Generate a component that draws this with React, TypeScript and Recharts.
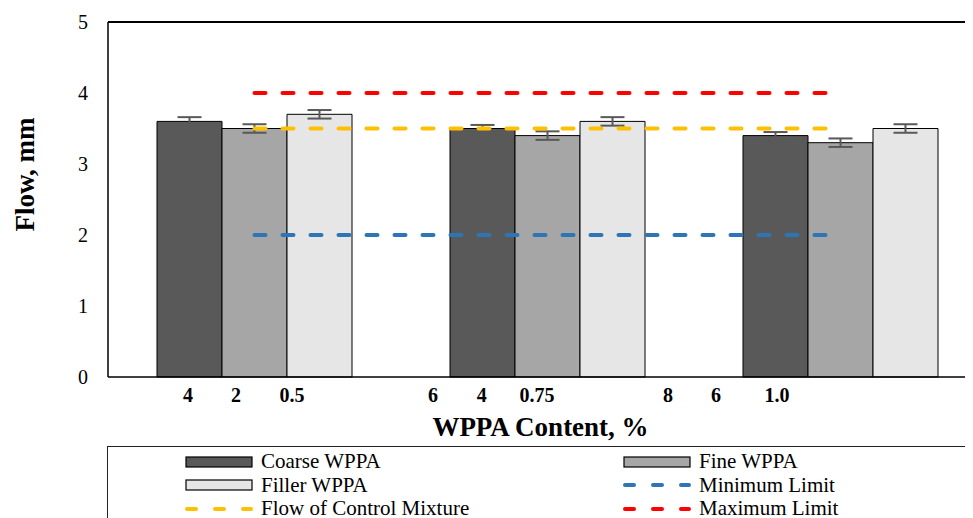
import React from "react"
import { ComposedChart, Bar, Line, XAxis, YAxis, ErrorBar, ReferenceLine } from "recharts"

const groups = ["Group 1", "Group 2", "Group 3"]
const groupPos = [0.5, 1.5, 2.5]
const coarse = [3.6, 3.5, 3.4]
const fine = [3.5, 3.4, 3.3]
const filler = [3.7, 3.6, 3.5]
const coarseErr = [0.06, 0.05, 0.05]
const fineErr = [0.06, 0.06, 0.06]
const fillerErr = [0.06, 0.06, 0.06]
const controlFlow = [3.5, 3.5, 3.5]
const minLimit = [2, 2, 2]
const maxLimit = [4, 4, 4]
const yTicks = [0, 1, 2, 3, 4, 5]

// the content labels sit loosely under the groups in the source figure
const contentPos = [0.273, 0.437, 0.628, 1.109, 1.276, 1.464, 1.911, 2.075, 2.283]
const contentLabels = ["4", "2", "0.5", "6", "4", "0.75", "8", "6", "1.0"]

const data = groups.map((g, i) => ({
  name: g,
  pos: groupPos[i],
  coarse: coarse[i],
  fine: fine[i],
  filler: filler[i],
  coarseErr: coarseErr[i],
  fineErr: fineErr[i],
  fillerErr: fillerErr[i],
  control: controlFlow[i],
  min: minLimit[i],
  max: maxLimit[i],
}))

const FONT = '"Liberation Serif", "Times New Roman", serif'

const legendItems = [
  { label: "Coarse WPPA", type: "bar", color: "#595959" },
  { label: "Fine WPPA", type: "bar", color: "#A6A6A6" },
  { label: "Filler WPPA", type: "bar", color: "#E7E6E6" },
  { label: "Minimum Limit", type: "line", color: "#2E75B6" },
  { label: "Flow of Control Mixture", type: "line", color: "#FFC000" },
  { label: "Maximum Limit", type: "line", color: "#FF0000" },
]

function LegendBox() {
  return (
    <div
      style={{
        position: "absolute",
        left: 107,
        top: 446,
        width: 900,
        height: 100,
        border: "1.5px solid #222",
        fontFamily: FONT,
        fontSize: 21,
        color: "#000",
      }}
    >
      {legendItems.map((it, i) => {
        const col = i % 2
        const row = Math.floor(i / 2)
        return (
          <div
            key={it.label}
            style={{
              position: "absolute",
              left: col === 0 ? 77 : 515,
              top: 3 + row * 23.5,
              height: 23,
              display: "flex",
              alignItems: "center",
              whiteSpace: "nowrap",
            }}
          >
            <svg width={68} height={12} style={{ marginRight: 8 }}>
              {it.type === "bar" ? (
                <rect x={1} y={1} width={66} height={10} fill={it.color} stroke="#000" strokeWidth={1.2} />
              ) : (
                <line
                  x1={2}
                  y1={6}
                  x2={66}
                  y2={6}
                  stroke={it.color}
                  strokeWidth={4}
                  strokeLinecap="round"
                  strokeDasharray="9 19"
                />
              )}
            </svg>
            <span>{it.label}</span>
          </div>
        )
      })}
    </div>
  )
}

export default function App() {
  return (
    <div
      style={{
        position: "relative",
        marginLeft: -8,
        marginTop: -8,
        width: 973,
        height: 518,
        overflow: "hidden",
        background: "#fff",
      }}
    >
      <ComposedChart
        width={1000}
        height={518}
        data={data}
        margin={{ top: 22, right: 13, left: 0, bottom: 0 }}
        barCategoryGap={49}
        barGap={0}
      >
        <XAxis dataKey="name" tick={false} tickLine={false} axisLine={{ stroke: "#000", strokeWidth: 1.5 }} height={1} />
        <XAxis
          xAxisId="lbl"
          dataKey="pos"
          type="number"
          domain={[0, 3]}
          ticks={contentPos}
          tickFormatter={(v, i) => contentLabels[i]}
          interval={0}
          axisLine={false}
          tickLine={false}
          tickSize={0}
          tickMargin={10}
          height={140}
          allowDataOverflow
          tick={{ fontSize: 20, fontWeight: "bold", fill: "#000", fontFamily: FONT }}
          label={{
            value: "WPPA Content, %",
            position: "insideTop",
            offset: 39,
            dx: -7,
            style: { fontSize: 27, fontWeight: "bold", fill: "#000", fontFamily: FONT },
          }}
        />
        <YAxis
          domain={[0, 5]}
          ticks={yTicks}
          width={108}
          tickLine={false}
          tickSize={0}
          tickMargin={20}
          axisLine={{ stroke: "#000", strokeWidth: 1.5 }}
          tick={{ fontSize: 20, fill: "#000", fontFamily: FONT }}
          label={{
            value: "Flow, mm",
            angle: -90,
            position: "insideLeft",
            offset: 24,
            dy: -25,
            textAnchor: "middle",
            style: { fontSize: 27, fontWeight: "bold", fill: "#000", fontFamily: FONT, textAnchor: "middle" },
          }}
        />
        <ReferenceLine y={5} stroke="#000" strokeWidth={2} />
        <Bar dataKey="coarse" fill="#595959" stroke="#000" strokeWidth={1} isAnimationActive={false}>
          <ErrorBar dataKey="coarseErr" width={12} stroke="#595959" strokeWidth={2} />
        </Bar>
        <Bar dataKey="fine" fill="#A6A6A6" stroke="#000" strokeWidth={1} isAnimationActive={false}>
          <ErrorBar dataKey="fineErr" width={12} stroke="#595959" strokeWidth={2} />
        </Bar>
        <Bar dataKey="filler" fill="#E7E6E6" stroke="#000" strokeWidth={1} isAnimationActive={false}>
          <ErrorBar dataKey="fillerErr" width={12} stroke="#595959" strokeWidth={2} />
        </Bar>
        <Line
          dataKey="min"
          stroke="#2E75B6"
          strokeWidth={4}
          strokeDasharray="11 17"
          strokeLinecap="round"
          dot={false}
          activeDot={false}
          isAnimationActive={false}
        />
        <Line
          dataKey="control"
          stroke="#FFC000"
          strokeWidth={4}
          strokeDasharray="11 17"
          strokeLinecap="round"
          dot={false}
          activeDot={false}
          isAnimationActive={false}
        />
        <Line
          dataKey="max"
          stroke="#FF0000"
          strokeWidth={4}
          strokeDasharray="11 17"
          strokeLinecap="round"
          dot={false}
          activeDot={false}
          isAnimationActive={false}
        />
      </ComposedChart>
      <LegendBox />
    </div>
  )
}
